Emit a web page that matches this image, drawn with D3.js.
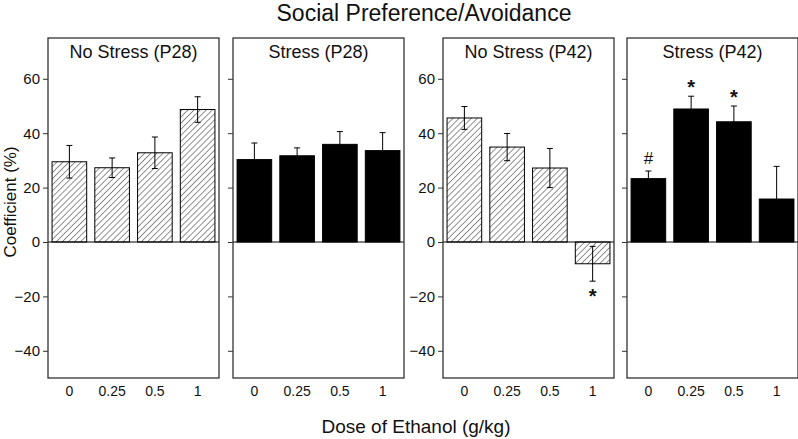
<!DOCTYPE html>
<html>
<head>
<meta charset="utf-8">
<script src="https://cdn.jsdelivr.net/npm/d3@7"></script>
<style>
  body { margin: 0; background: #fff; }
  text { font-family: "Liberation Sans", Arial, sans-serif; fill: #111; }
</style>
</head>
<body>
<svg id="chart" width="798" height="439"></svg>
<script>
// ---- data ----
var doses = ["0", "0.25", "0.5", "1"];
var panelTitles = ["No Stress (P28)", "Stress (P28)", "No Stress (P42)", "Stress (P42)"];
var panelHatched = [true, false, true, false];

var noStressP28 = [29.5, 27.3, 32.8, 48.7];
var noStressP28Err = [6.0, 3.6, 5.8, 4.7];
var stressP28 = [30.3, 31.7, 35.9, 33.6];
var stressP28Err = [6.1, 2.9, 4.7, 6.6];
var noStressP42 = [45.6, 34.9, 27.2, -8.0];
var noStressP42Err = [4.2, 5.0, 7.2, 6.4];
var stressP42 = [23.3, 48.9, 44.2, 15.8];
var stressP42Err = [2.8, 4.7, 5.8, 12.0];

var yTicks = [-40, -20, 0, 20, 40, 60];

// significance marks: panel index, dose, symbol
var marks = [
  {panel: 2, dose: "1", text: "*"},
  {panel: 3, dose: "0", text: "#"},
  {panel: 3, dose: "0.25", text: "*"},
  {panel: 3, dose: "0.5", text: "*"}
];

var series = [
  [noStressP28, noStressP28Err],
  [stressP28, stressP28Err],
  [noStressP42, noStressP42Err],
  [stressP42, stressP42Err]
];

// ---- layout ----
var svg = d3.select("#chart");
var panelLeft = [48, 233, 443, 627],
    panelW = 171,
    plotTop = 38,
    plotBottom = 378;

var y = d3.scaleLinear().domain([-50, 75]).range([plotBottom, plotTop]);
var x = d3.scaleBand().domain(doses).range([0, panelW]).paddingInner(0.19).paddingOuter(0.095);

var defs = svg.append("defs");
defs.append("pattern")
    .attr("id", "hatch")
    .attr("patternUnits", "userSpaceOnUse")
    .attr("width", 4.3)
    .attr("height", 4.3)
    .attr("patternTransform", "rotate(45)")
  .append("line")
    .attr("x1", 0).attr("y1", 0)
    .attr("x2", 0).attr("y2", 4.3)
    .attr("stroke", "#222")
    .attr("stroke-width", 1);

svg.append("text")
    .attr("x", 424)
    .attr("y", 21)
    .attr("text-anchor", "middle")
    .style("font-size", "23px")
    .text("Social Preference/Avoidance");

series.forEach(function(s, i) {
  var vals = s[0], errs = s[1];
  var data = doses.map(function(d, j) { return {dose: d, value: vals[j], err: errs[j]}; });
  var g = svg.append("g").attr("transform", "translate(" + panelLeft[i] + ",0)");

  // y axis ticks (labels only on panels 1 and 3)
  var axis = d3.axisLeft(y).tickValues(yTicks).tickSize(5).tickPadding(3);
  if (i % 2 == 1) axis.tickFormat("");
  var ax = g.append("g").call(axis);
  ax.select(".domain").remove();
  ax.selectAll("line").attr("stroke", "#333");
  ax.selectAll("text").style("font-size", "15px").style("font-family", "Liberation Sans, Arial, sans-serif").attr("fill", "#111");

  // bars
  g.selectAll("rect.bar")
    .data(data)
    .enter().append("rect")
      .attr("class", "bar")
      .attr("x", function(d) { return x(d.dose); })
      .attr("width", x.bandwidth())
      .attr("y", function(d) { return y(Math.max(0, d.value)); })
      .attr("height", function(d) { return Math.abs(y(d.value) - y(0)); })
      .attr("fill", panelHatched[i] ? "url(#hatch)" : "#000")
      .attr("stroke", "#000")
      .attr("stroke-width", 1);

  // error bars
  var eb = g.selectAll("g.err")
    .data(data)
    .enter().append("g")
      .attr("class", "err")
      .attr("stroke", "#000")
      .attr("stroke-width", 1);
  eb.append("line")
      .attr("x1", function(d) { return x(d.dose) + x.bandwidth() / 2; })
      .attr("x2", function(d) { return x(d.dose) + x.bandwidth() / 2; })
      .attr("y1", function(d) { return y(d.value - d.err); })
      .attr("y2", function(d) { return y(d.value + d.err); });
  [1, -1].forEach(function(sign) {
    eb.append("line")
        .attr("x1", function(d) { return x(d.dose) + x.bandwidth() / 2 - 3; })
        .attr("x2", function(d) { return x(d.dose) + x.bandwidth() / 2 + 3; })
        .attr("y1", function(d) { return y(d.value + sign * d.err); })
        .attr("y2", function(d) { return y(d.value + sign * d.err); });
  });

  // zero line
  g.append("line")
      .attr("x1", 0).attr("x2", panelW)
      .attr("y1", y(0)).attr("y2", y(0))
      .attr("stroke", "#000")
      .attr("stroke-width", 1.2);

  // frame
  g.append("rect")
      .attr("x", 0).attr("y", plotTop)
      .attr("width", panelW).attr("height", plotBottom - plotTop)
      .attr("fill", "none")
      .attr("stroke", "#333")
      .attr("stroke-width", 1.3);

  g.append("text")
      .attr("x", panelW / 2)
      .attr("y", 58)
      .attr("text-anchor", "middle")
      .style("font-size", "18px")
      .text(panelTitles[i]);

  // x tick labels
  g.selectAll("text.xt")
    .data(doses)
    .enter().append("text")
      .attr("class", "xt")
      .attr("x", function(d) { return x(d) + x.bandwidth() / 2; })
      .attr("y", 396)
      .attr("text-anchor", "middle")
      .style("font-size", "14px")
      .text(function(d) { return d; });

  // significance marks
  marks.filter(function(m) { return m.panel == i; }).forEach(function(m) {
    var d = data[doses.indexOf(m.dose)];
    var cx = x(d.dose) + x.bandwidth() / 2;
    var ty;
    if (d.value < 0) ty = y(d.value - d.err) + 22;
    else if (m.text == "#") ty = y(d.value + d.err) - 7;
    else ty = y(d.value + d.err) - 2;
    g.append("text")
        .attr("x", cx)
        .attr("y", ty)
        .attr("text-anchor", "middle")
        .style("font-size", m.text == "#" ? "17px" : "20px")
        .style("font-weight", m.text == "#" ? "normal" : "bold")
        .text(m.text);
  });
});

svg.append("text")
    .attr("x", 416)
    .attr("y", 433)
    .attr("text-anchor", "middle")
    .style("font-size", "19px")
    .text("Dose of Ethanol (g/kg)");

svg.append("text")
    .attr("transform", "translate(16,202) rotate(-90)")
    .attr("text-anchor", "middle")
    .style("font-size", "17px")
    .text("Coefficient (%)");
</script>
</body>
</html>
